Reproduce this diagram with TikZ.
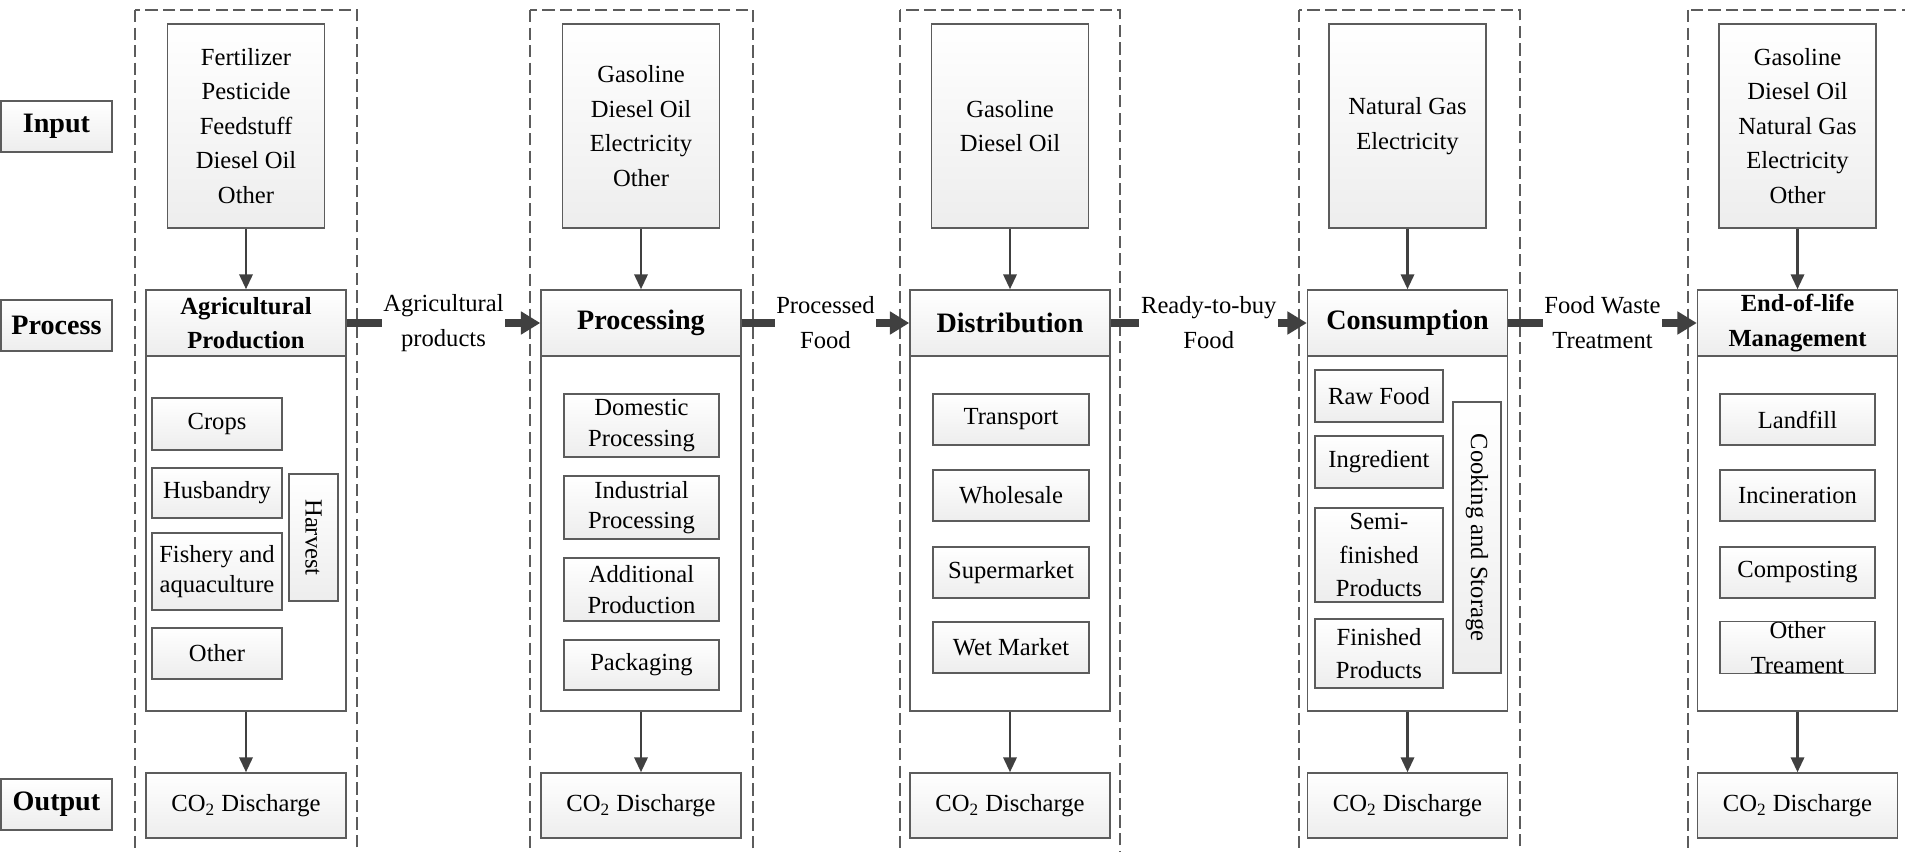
\documentclass[tikz,border=0pt]{standalone}
\usepackage{fontspec}
\setmainfont{Liberation Serif}
\usepackage{tikz}
\usetikzlibrary{positioning,%
  arrows.meta,%
  calc
}

\definecolor{framegray}{HTML}{5C5C5C}
\definecolor{arrowgray}{HTML}{404040}

\begin{document}
\begin{tikzpicture}
                    [
                        every node/.style={align=center, inner sep=1pt, font=\fontsize{14}{19.6}\selectfont},
                        box/.style={draw=framegray, line width=0.8pt, top color=white, bottom color=black!7},
                        rowlabel/.style={box, minimum width=2.22cm, minimum height=1.02cm, font=\fontsize{16}{19}\selectfont\bfseries},
                        inbox/.style={box, minimum width=3.14cm, minimum height=4.08cm},
                        headbox/.style={box, minimum width=4cm, minimum height=1.32cm, font=\fontsize{16}{19}\selectfont\bfseries},
                        bodybox/.style={draw=framegray, line width=0.8pt, fill=white, minimum width=4cm, minimum height=7.1cm},
                        outbox/.style={box, minimum width=4cm, minimum height=1.3cm},
                        item/.style={box, font=\fontsize{14}{17.5}\selectfont},
                        lane/.style={draw=framegray, line width=0.8pt, dash pattern=on 7pt off 3pt},
                        down/.style={draw=arrowgray, line width=1.6pt, -{Triangle[length=8.5pt,width=7.5pt]}},
                        flow/.style={draw=arrowgray, line width=4.2pt, -{Triangle[length=11pt,width=12.5pt]}},
                        flowlabel/.style={fill=white, inner xsep=1pt, font=\fontsize{14}{20}\selectfont}
                    ]

                    % Rahmen
                    \useasboundingbox (0,0) rectangle (38.1,-17.04);

                    % dashed lanes
                    \draw[lane] (2.70,-0.2) rectangle (7.14,-17.6);
                    \draw[lane] (10.60,-0.2) rectangle (15.06,-17.6);
                    \draw[lane] (18.00,-0.2) rectangle (22.40,-17.6);
                    \draw[lane] (25.98,-0.2) rectangle (30.40,-17.6);
                    \draw[lane] (33.76,-0.2) rectangle (38.30,-17.6);

                    % row labels
                    \node[rowlabel] (input) at (1.13,-2.53) {Input};
                    \node[rowlabel] (process) at (1.13,-6.51) {Process};
                    \node[rowlabel] (output) at (1.13,-16.09) {Output};

                    % Agricultural Production
                    \node[inbox] (in1) at (4.92,-2.52) {Fertilizer\\Pesticide\\Feedstuff\\Diesel Oil\\Other};
                    \node[headbox, font=\fontsize{14}{19.6}\selectfont\bfseries] (h1) at (4.92,-6.46) {Agricultural\\Production};
                    \node[bodybox] (b1) at (4.92,-10.67) {};
                    \node[outbox] (o1) at (4.92,-16.11) {CO\textsubscript{2} Discharge};
                    \node[item, minimum width=2.6cm, minimum height=1.04cm] (crops) at (4.34,-8.48) {Crops};
                    \node[item, minimum width=2.6cm, minimum height=1.0cm] (husbandry) at (4.34,-9.86) {Husbandry};
                    \node[item, minimum width=2.6cm, minimum height=1.54cm] (fishery) at (4.34,-11.43) {Fishery and\\aquaculture};
                    \node[item, minimum width=2.6cm, minimum height=1.02cm] (other1) at (4.34,-13.07) {Other};
                    \node[item, rotate=-90, minimum width=2.54cm, minimum height=0.98cm] (harvest) at (6.27,-10.75) {Harvest};

                    % Processing
                    \node[inbox] (in2) at (12.82,-2.52) {Gasoline\\Diesel Oil\\Electricity\\Other};
                    \node[headbox] (h2) at (12.82,-6.46) {Processing};
                    \node[bodybox] (b2) at (12.82,-10.67) {};
                    \node[outbox] (o2) at (12.82,-16.11) {CO\textsubscript{2} Discharge};
                    \node[item, minimum width=3.1cm, minimum height=1.26cm] (domestic) at (12.83,-8.51) {Domestic\\Processing};
                    \node[item, minimum width=3.1cm, minimum height=1.26cm] (industrial) at (12.83,-10.15) {Industrial\\Processing};
                    \node[item, minimum width=3.1cm, minimum height=1.26cm] (additional) at (12.83,-11.79) {Additional\\Production};
                    \node[item, minimum width=3.1cm, minimum height=1.0cm] (packaging) at (12.83,-13.30) {Packaging};

                    % Distribution
                    \node[inbox] (in3) at (20.20,-2.52) {Gasoline\\Diesel Oil};
                    \node[headbox] (h3) at (20.20,-6.46) {Distribution};
                    \node[bodybox] (b3) at (20.20,-10.67) {};
                    \node[outbox] (o3) at (20.20,-16.11) {CO\textsubscript{2} Discharge};
                    \node[item, minimum width=3.12cm, minimum height=1.02cm] (transport) at (20.22,-8.39) {Transport};
                    \node[item, minimum width=3.12cm, minimum height=1.02cm] (wholesale) at (20.22,-9.91) {Wholesale};
                    \node[item, minimum width=3.12cm, minimum height=1.02cm] (supermarket) at (20.22,-11.45) {Supermarket};
                    \node[item, minimum width=3.12cm, minimum height=1.02cm] (wetmarket) at (20.22,-12.95) {Wet Market};

                    % Consumption
                    \node[inbox] (in4) at (28.15,-2.52) {Natural Gas\\Electricity};
                    \node[headbox] (h4) at (28.15,-6.46) {Consumption};
                    \node[bodybox] (b4) at (28.15,-10.67) {};
                    \node[outbox] (o4) at (28.15,-16.11) {CO\textsubscript{2} Discharge};
                    \node[item, minimum width=2.56cm, minimum height=1.04cm] (rawfood) at (27.58,-7.92) {Raw Food};
                    \node[item, minimum width=2.56cm, minimum height=1.04cm] (ingredient) at (27.58,-9.24) {Ingredient};
                    \node[item, minimum width=2.56cm, minimum height=1.88cm, font=\fontsize{14}{19}\selectfont] (semi) at (27.58,-11.10) {Semi-\\finished\\Products};
                    \node[item, minimum width=2.56cm, minimum height=1.38cm, font=\fontsize{14}{19}\selectfont] (finished) at (27.58,-13.07) {Finished\\Products};
                    \node[item, rotate=-90, minimum width=5.42cm, minimum height=0.96cm] (cooking) at (29.54,-10.75) {Cooking and Storage};

                    % End-of-life Management
                    \node[inbox] (in5) at (35.95,-2.52) {Gasoline\\Diesel Oil\\Natural Gas\\Electricity\\Other};
                    \node[headbox, font=\fontsize{14}{19.6}\selectfont\bfseries] (h5) at (35.95,-6.46) {End-of-life\\Management};
                    \node[bodybox] (b5) at (35.95,-10.67) {};
                    \node[outbox] (o5) at (35.95,-16.11) {CO\textsubscript{2} Discharge};
                    \node[item, minimum width=3.1cm, minimum height=1.02cm] (landfill) at (35.95,-8.39) {Landfill};
                    \node[item, minimum width=3.1cm, minimum height=1.02cm] (incineration) at (35.95,-9.91) {Incineration};
                    \node[item, minimum width=3.1cm, minimum height=1.02cm] (composting) at (35.95,-11.45) {Composting};
                    \node[item, minimum width=3.1cm, minimum height=1.02cm, inner ysep=0pt, font=\fontsize{14}{19.5}\selectfont] (othertreat) at (35.95,-12.95) {Other\\Treament};

                    % Pfeile
                    \foreach \i in {1,...,5} {
                        \draw[down] (in\i.south) -- (h\i.north);
                        \draw[down] (b\i.south) -- (o\i.north);
                    }
                    \draw[flow] (h1.east) -- node[flowlabel] {Agricultural\\products} (h2.west);
                    \draw[flow] (h2.east) -- node[flowlabel] {Processed\\Food} (h3.west);
                    \draw[flow] (h3.east) -- node[flowlabel] {Ready-to-buy\\Food} (h4.west);
                    \draw[flow] (h4.east) -- node[flowlabel] {Food Waste\\Treatment} (h5.west);
\end{tikzpicture}
\end{document}
